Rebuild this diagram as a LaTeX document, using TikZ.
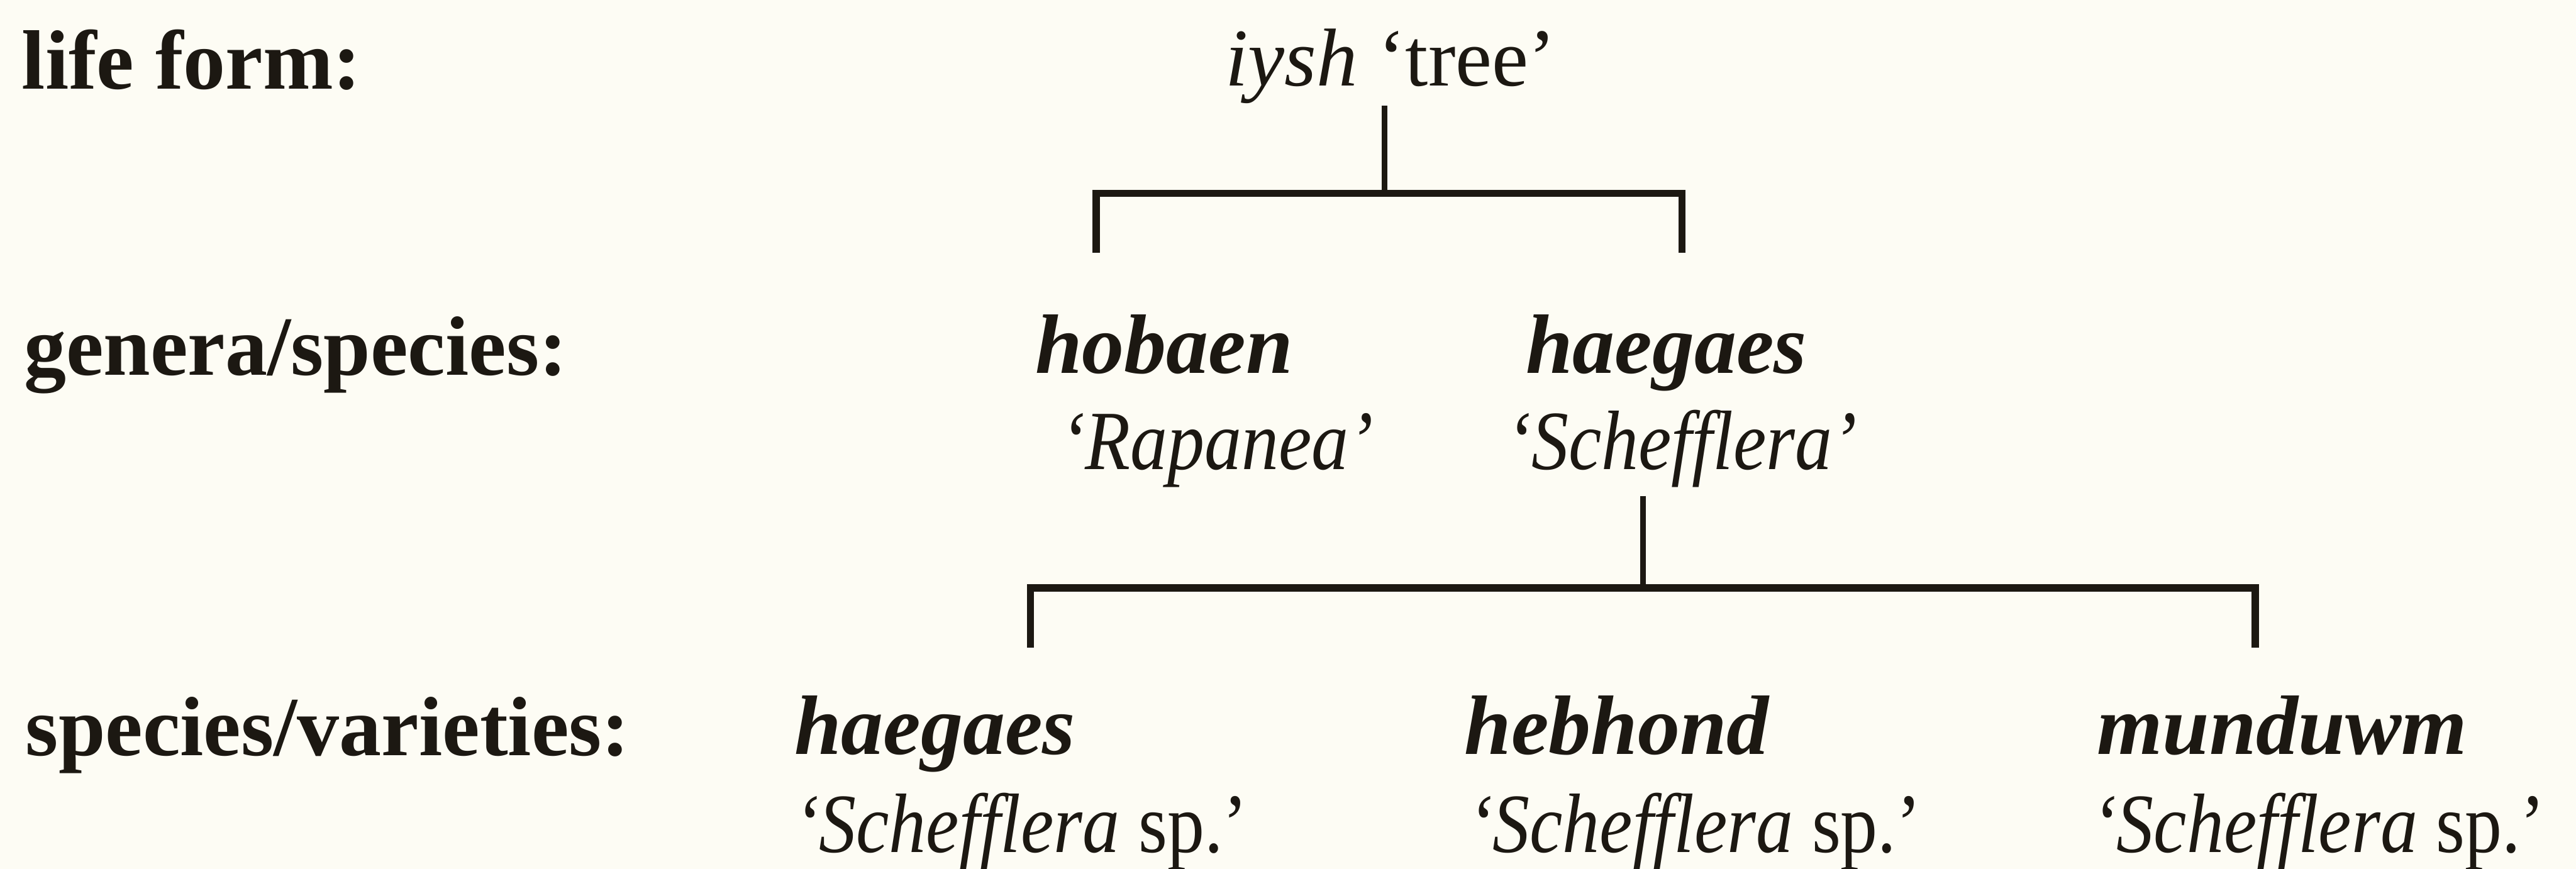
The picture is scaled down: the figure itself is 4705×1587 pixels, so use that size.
\documentclass[tikz,border=0pt]{standalone}
\usepackage{fontspec}
\setmainfont{Liberation Serif}
\newfontfamily\glossfont[FakeStretch=0.88]{Liberation Serif}
\definecolor{paper}{RGB}{253,252,244}
\definecolor{ink}{RGB}{28,24,18}
\tikzset{
  txt/.style={inner sep=0pt, anchor=base west, text=ink},
  rank/.style={txt, font=\fontsize{15.4}{18}\selectfont\bfseries},
  term/.style={txt, font=\fontsize{15.4}{18}\selectfont\bfseries\itshape},
  gloss/.style={txt, font=\fontsize{15.4}{18}\selectfont\glossfont\itshape},
  top/.style={txt, font=\fontsize{15}{18}\selectfont},
  bracket/.style={draw=ink, line width=1.3pt, line join=miter},
  stem/.style={draw=ink, line width=1.05pt}
}
\begin{document}
\begin{tikzpicture}[x=0.1pt, y=-0.1pt]
  % page
  \fill[paper] (0,0) rectangle (4705,1587);
  \useasboundingbox (0,0) rectangle (4705,1587);

  % rank labels
  \node[rank] (lf) at (38,162)  {life form:};
  \node[rank] (gs) at (42,685)  {genera/species:};
  \node[rank] (sv) at (45,1380) {species/varieties:};

  % life form
  \node[top] (iysh) at (2236,157) {\itshape iysh\upshape{} ‘tree’};

  % genera/species
  \node[term]  (hobaen)   at (1889,682) {hobaen};
  \node[gloss] (rapanea)  at (1935,857) {‘Rapanea’};
  \node[term]  (haegaesA) at (2785,682) {haegaes};
  \node[gloss] (schef)    at (2750,857) {‘Schefflera’};

  % species/varieties
  \node[term]  (haegaesB) at (1449,1378) {haegaes};
  \node[gloss] (spA)      at (1449,1557) {‘Schefflera\upshape{} sp.’};
  \node[term]  (hebhond)  at (2673,1378) {hebhond};
  \node[gloss] (spB)      at (2679,1557) {‘Schefflera\upshape{} sp.’};
  \node[term]  (munduwm)  at (3828,1378) {munduwm};
  \node[gloss] (spC)      at (3819,1557) {‘Schefflera\upshape{} sp.’};

  % upper bracket
  \coordinate (j1)  at (2529,353);
  \coordinate (l1a) at (2002,462);
  \coordinate (l1b) at (3072,462);
  \draw[stem, shorten <=0.2pt] (j1 |- iysh.south) -- (j1);
  \draw[bracket] (l1a) -- (l1a |- j1) -- (l1b |- j1) -- (l1b);

  % lower bracket
  \coordinate (j2)  at (3001,1074);
  \coordinate (l2a) at (1882,1183);
  \coordinate (l2b) at (4119,1183);
  \draw[stem, shorten <=1.4pt] (j2 |- schef.south) -- (j2);
  \draw[bracket] (l2a) -- (l2a |- j2) -- (l2b |- j2) -- (l2b);
\end{tikzpicture}
\end{document}
